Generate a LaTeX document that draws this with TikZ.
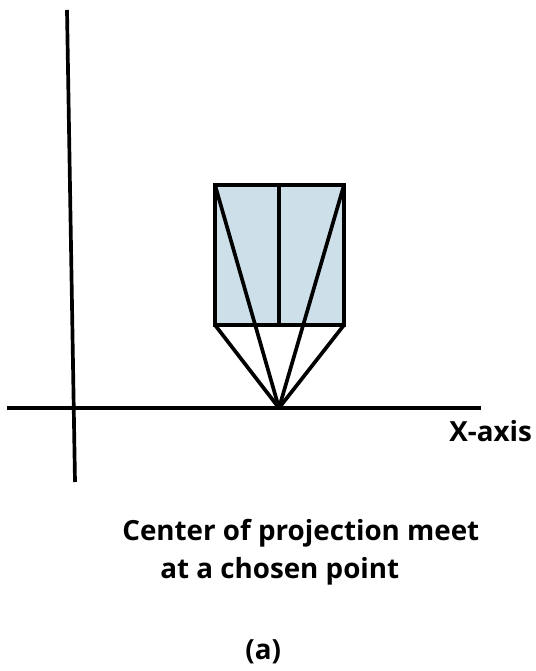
\documentclass[tikz,border=0pt]{standalone}
\usepackage{fontspec}
\setmainfont{Open Sans}
\usepackage{xcolor}
\usetikzlibrary{positioning}
\definecolor{Panel}{HTML}{CDE0E9}
\begin{document}
\begin{tikzpicture}[x=0.02cm,y=-0.02cm,
  axisline/.style={line width=2.1pt},
  rayline/.style={line width=2.1pt},
  caption/.style={font=\fontsize{15.8}{18}\selectfont\bfseries,inner sep=0pt,anchor=west}]
\useasboundingbox (0,0) rectangle (536,671);
\coordinate (tl) at (215,185); \coordinate (tm) at (279,185); \coordinate (tr) at (344,185);
\coordinate (bl) at (215,325); \coordinate (bm) at (279,325); \coordinate (br) at (344,325);
\coordinate (apex) at (279,408);
\coordinate (xa) at (7,408); \coordinate (xb) at (481,408);
\coordinate (ya) at (67,10); \coordinate (yb) at (75,482);
\fill[Panel] (tl) rectangle (br);
\draw[axisline] (xa) -- (xb);
\draw[axisline] (ya) -- (yb);
\draw[rayline,line join=miter] (tl) rectangle (br);
\draw[rayline] (tm) -- (bm);
\draw[rayline] (tl) -- (apex);
\draw[rayline] (tr) -- (apex);
\draw[rayline] (bl) -- (apex);
\draw[rayline] (br) -- (apex);
\node[caption] (xlabel) at (449,431) {X-axis};
\node[caption] (line1) at (122,533) {Center of projection meet};
\node[caption] (line2) at (160,571) {at a chosen point};
\node[caption] (tag) at (245,652) {(a)};
\end{tikzpicture}
\end{document}
